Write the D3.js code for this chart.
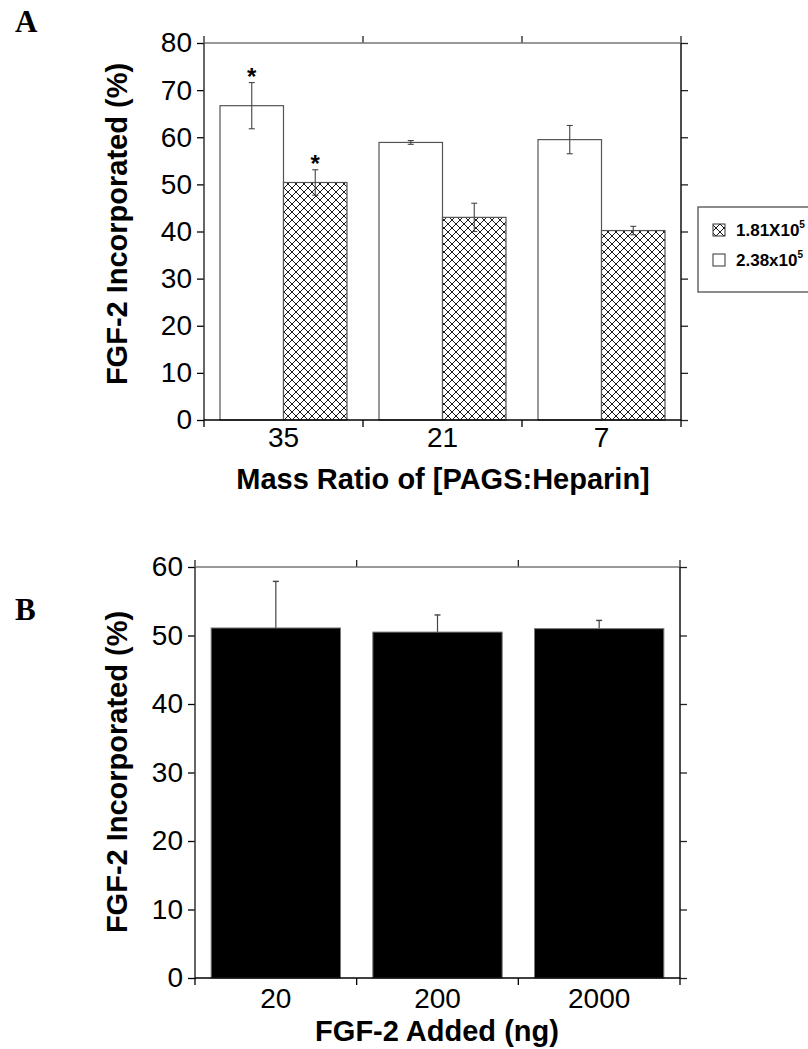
<!DOCTYPE html>
<html>
<head>
<meta charset="utf-8">
<title>FGF-2 incorporation</title>
<script src="https://d3js.org/d3.v7.min.js"></script>
<style>
  body { margin: 0; background: #fff; }
  svg { display: block; }
  svg text { font-family: Arial, "Liberation Sans", sans-serif; fill: #000; }
  .tick text { font-size: 28px; }
  .bold { font-weight: bold; }
</style>
</head>
<body>
<div id="chart"></div>
<script>
// panel A data
var ratios = ["35", "21", "7"];
var seriesA = ["2.38x10^5", "1.81X10^5"];
var whiteVals = [66.7, 58.9, 59.5];
var whiteErr = [4.9, 0.4, 3.0];
var hatchVals = [50.4, 43.0, 40.2];
var hatchErr = [2.7, 3.0, 0.9];
var starred = [true, false, false];
var ticksA = [0, 10, 20, 30, 40, 50, 60, 70, 80];

// panel B data
var added = ["20", "200", "2000"];
var valsB = [51.1, 50.5, 51.0];
var errB = [6.8, 2.5, 1.2];
var ticksB = [0, 10, 20, 30, 40, 50, 60];

var W = 808, H = 1049;
var svg = d3.select("#chart").append("svg").attr("width", W).attr("height", H);

// crosshatch pattern
var pat = svg.append("defs").append("pattern")
  .attr("id", "xhatch").attr("patternUnits", "userSpaceOnUse")
  .attr("width", 8).attr("height", 8);
pat.append("rect").attr("width", 8).attr("height", 8).attr("fill", "#fff");
pat.append("path").attr("d", "M0,0L8,8M8,0L0,8M-1,7L1,9M7,-1L9,1")
  .attr("stroke", "#000").attr("stroke-width", 0.9);

function frame(g, x0, x1, y, bounds, ticks, tickLen) {
  // left axis with labels
  g.append("g").attr("transform", "translate(" + x0 + ",0)")
    .call(d3.axisLeft(y).tickValues(ticks).tickSize(tickLen).tickSizeOuter(0).tickPadding(5))
    .attr("font-family", null).attr("font-size", null)
    .call(function(a) { a.select(".domain").remove(); a.selectAll("line").attr("stroke", "#000").attr("stroke-width", 1.3); });
  // right axis, ticks only
  g.append("g").attr("transform", "translate(" + x1 + ",0)")
    .call(d3.axisRight(y).tickValues(ticks).tickSize(tickLen).tickSizeOuter(0).tickFormat(""))
    .call(function(a) { a.select(".domain").remove(); a.selectAll("line").attr("stroke", "#222").attr("stroke-width", 1.3); });
  var yb = y.range()[0], yt = y.range()[1];
  // top & bottom ticks at band boundaries
  bounds.forEach(function(bx) {
    g.append("line").attr("x1", bx).attr("x2", bx).attr("y1", yb).attr("y2", yb + tickLen)
      .attr("stroke", "#000").attr("stroke-width", 1.3);
    g.append("line").attr("x1", bx).attr("x2", bx).attr("y1", yt).attr("y2", yt - tickLen)
      .attr("stroke", "#222").attr("stroke-width", 1.3);
  });
  g.append("line").attr("x1", x0).attr("x2", x1).attr("y1", yt).attr("y2", yt).attr("stroke", "#777").attr("stroke-width", 1.5);
  g.append("line").attr("x1", x0).attr("x2", x0).attr("y1", yt).attr("y2", yb).attr("stroke", "#333").attr("stroke-width", 1.5);
  g.append("line").attr("x1", x1).attr("x2", x1).attr("y1", yt).attr("y2", yb).attr("stroke", "#111").attr("stroke-width", 1.5);
  g.append("line").attr("x1", x0).attr("x2", x1).attr("y1", yb).attr("y2", yb).attr("stroke", "#000").attr("stroke-width", 1.5);
}

// ---------- Panel A ----------
var gA = svg.append("g");
var xA = d3.scaleBand().domain(ratios).range([204, 681]).padding(0);
var xInner = d3.scaleBand().domain(seriesA).range([16, xA.bandwidth() - 16]).padding(0);
var yA = d3.scaleLinear().domain([0, 80]).range([420, 43]);

var rowsA = ratios.map(function(r, i) {
  return [
    { cat: r, s: seriesA[0], v: whiteVals[i], e: whiteErr[i], star: starred[i], fill: "#fff" },
    { cat: r, s: seriesA[1], v: hatchVals[i], e: hatchErr[i], star: starred[i], fill: "url(#xhatch)" }
  ];
});
var flatA = d3.merge(rowsA);

gA.selectAll("rect.bar").data(flatA).enter().append("rect")
  .attr("x", function(d) { return xA(d.cat) + xInner(d.s); })
  .attr("y", function(d) { return yA(d.v); })
  .attr("width", xInner.bandwidth())
  .attr("height", function(d) { return yA(0) - yA(d.v); })
  .attr("fill", function(d) { return d.fill; })
  .attr("stroke", "#555").attr("stroke-width", 1.2);

var errA = gA.selectAll("g.err").data(flatA).enter().append("g")
  .attr("transform", function(d) { return "translate(" + (xA(d.cat) + xInner(d.s) + xInner.bandwidth() / 2) + ",0)"; });
errA.append("line").attr("y1", function(d) { return yA(d.v + d.e); }).attr("y2", function(d) { return yA(d.v - d.e); })
  .attr("stroke", "#444").attr("stroke-width", 1.1);
errA.append("line").attr("x1", -3).attr("x2", 3).attr("y1", function(d) { return yA(d.v + d.e); }).attr("y2", function(d) { return yA(d.v + d.e); })
  .attr("stroke", "#444").attr("stroke-width", 1.1);
errA.append("line").attr("x1", -3).attr("x2", 3).attr("y1", function(d) { return yA(d.v - d.e); }).attr("y2", function(d) { return yA(d.v - d.e); })
  .attr("stroke", "#444").attr("stroke-width", 1.1);
errA.filter(function(d) { return d.star; }).append("text")
  .attr("text-anchor", "middle").attr("y", function(d) { return yA(d.v + d.e) + 2; })
  .attr("class", "bold").style("font-size", "24px").text("*");

var boundsA = ratios.map(function(r) { return xA(r); }).concat([xA.range()[1]]);
frame(gA, 204, 681, yA, boundsA, ticksA, 7);

gA.selectAll("text.xl").data(ratios).enter().append("text")
  .attr("x", function(r) { return xA(r) + xA.bandwidth() / 2; }).attr("y", 447)
  .attr("text-anchor", "middle").style("font-size", "28px").text(function(r) { return r; });

gA.append("text").attr("class", "bold").attr("x", 443).attr("y", 489)
  .attr("text-anchor", "middle").style("font-size", "29px").text("Mass Ratio of [PAGS:Heparin]");
gA.append("text").attr("class", "bold").attr("transform", "translate(127,224) rotate(-90)")
  .attr("text-anchor", "middle").style("font-size", "29px").text("FGF-2 Incorporated (%)");

gA.append("text").attr("x", 15).attr("y", 32)
  .style("font-family", "'Times New Roman','Liberation Serif',serif")
  .attr("font-weight", "bold").style("font-size", "31px").text("A");

// legend
var leg = gA.append("g");
leg.append("rect").attr("x", 698).attr("y", 207).attr("width", 130).attr("height", 85)
  .attr("fill", "#fff").attr("stroke", "#666").attr("stroke-width", 1.5);
var legItems = [
  { fill: "url(#xhatch)", base: "1.81X10", y: 236 },
  { fill: "#fff", base: "2.38x10", y: 266 }
];
legItems.forEach(function(it) {
  leg.append("rect").attr("x", 713).attr("y", it.y - 12).attr("width", 12).attr("height", 12)
    .attr("fill", it.fill).attr("stroke", "#333").attr("stroke-width", 1);
  var t = leg.append("text").attr("class", "bold").attr("x", 736).attr("y", it.y).style("font-size", "17px");
  t.append("tspan").text(it.base);
  t.append("tspan").attr("dy", -8).style("font-size", "10px").text("5");
});

// ---------- Panel B ----------
var gB = svg.append("g");
var xB = d3.scaleBand().domain(added).range([195, 680]).paddingInner(0.2).paddingOuter(0.1);
var yB = d3.scaleLinear().domain([0, 60]).range([978, 567]);
var flatB = added.map(function(a, i) { return { cat: a, v: valsB[i], e: errB[i] }; });

var errBg = gB.selectAll("g.err").data(flatB).enter().append("g")
  .attr("transform", function(d) { return "translate(" + (xB(d.cat) + xB.bandwidth() / 2) + ",0)"; });
errBg.append("line").attr("y1", function(d) { return yB(d.v + d.e); }).attr("y2", function(d) { return yB(d.v); })
  .attr("stroke", "#444").attr("stroke-width", 1.2);
errBg.append("line").attr("x1", -3).attr("x2", 3).attr("y1", function(d) { return yB(d.v + d.e); }).attr("y2", function(d) { return yB(d.v + d.e); })
  .attr("stroke", "#444").attr("stroke-width", 1.4);

gB.selectAll("rect.bar").data(flatB).enter().append("rect")
  .attr("x", function(d) { return xB(d.cat); })
  .attr("y", function(d) { return yB(d.v); })
  .attr("width", xB.bandwidth())
  .attr("height", function(d) { return yB(0) - yB(d.v); })
  .attr("fill", "#000").attr("stroke", "#777").attr("stroke-width", 1);

var stepB = xB.step(), offB = stepB * xB.paddingInner() / 2;
var boundsB = [195].concat(added.slice(1).map(function(a) { return xB(a) - offB; })).concat([680]);
frame(gB, 195, 680, yB, boundsB, ticksB, 7);

gB.selectAll("text.xl").data(added).enter().append("text")
  .attr("x", function(a) { return xB(a) + xB.bandwidth() / 2; }).attr("y", 1008)
  .attr("text-anchor", "middle").style("font-size", "28px").text(function(a) { return a; });

gB.append("text").attr("class", "bold").attr("x", 437).attr("y", 1041)
  .attr("text-anchor", "middle").style("font-size", "29px").text("FGF-2 Added (ng)");
gB.append("text").attr("class", "bold").attr("transform", "translate(127,772) rotate(-90)")
  .attr("text-anchor", "middle").style("font-size", "29px").text("FGF-2 Incorporated (%)");

gB.append("text").attr("x", 15).attr("y", 620)
  .style("font-family", "'Times New Roman','Liberation Serif',serif")
  .attr("font-weight", "bold").style("font-size", "31px").text("B");
</script>
</body>
</html>
